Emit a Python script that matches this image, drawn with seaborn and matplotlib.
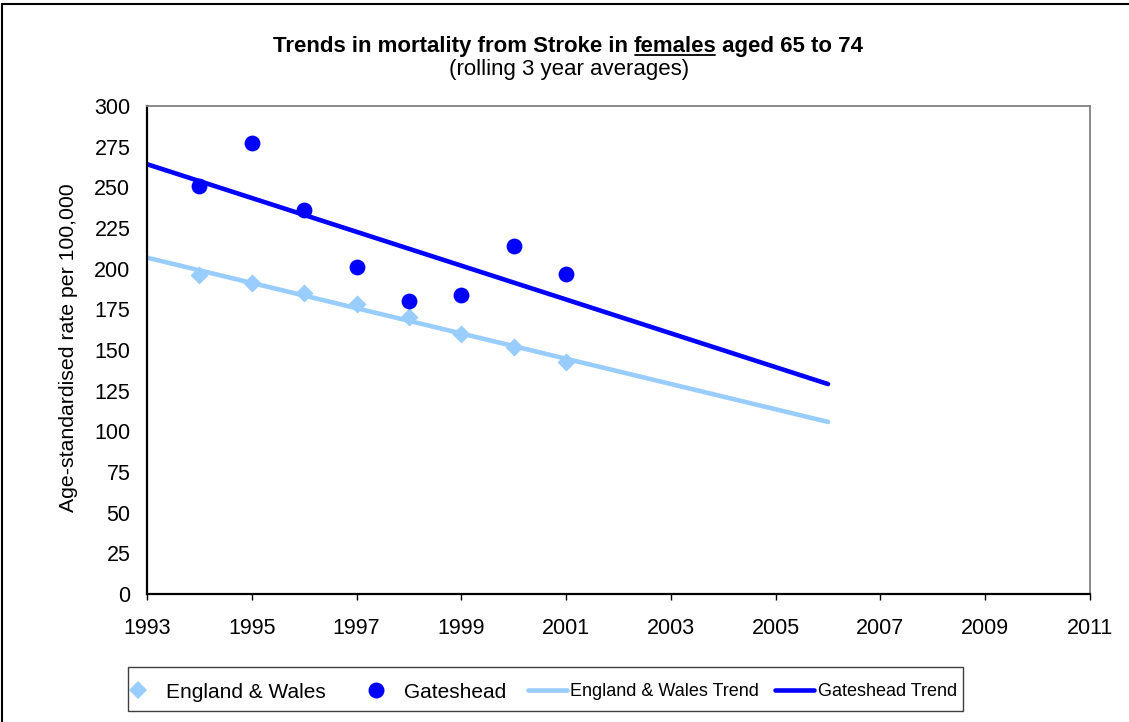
import numpy as np
import pandas as pd
import matplotlib
matplotlib.use("Agg")
import matplotlib.pyplot as plt
from matplotlib.patches import Rectangle
from matplotlib.lines import Line2D
import seaborn as sns

# ---- data ----
years = [1994, 1995, 1996, 1997, 1998, 1999, 2000, 2001]
england_wales = [196, 191, 185, 178, 170, 160, 152, 142.5]
gateshead = [251, 277, 236, 201, 180, 184, 214, 196.5]
trend_years = [1993, 2006]
x_ticks = [1993, 1995, 1997, 1999, 2001, 2003, 2005, 2007, 2009, 2011]
y_ticks = [0, 25, 50, 75, 100, 125, 150, 175, 200, 225, 250, 275, 300]
title_parts = ["Trends in mortality from Stroke in ", "females", " aged 65 to 74"]
subtitle = "(rolling 3 year averages)"
y_label = "Age-standardised rate per 100,000"
legend_labels = ["England & Wales", "Gateshead", "England & Wales Trend", "Gateshead Trend"]

c_ew = "#99CCFF"
c_gh = "#0000FF"

sns.set_theme(style="white")
plt.rcParams['font.family'] = ['Liberation Sans', 'DejaVu Sans']
plt.rcParams['text.color'] = 'black'
plt.rcParams['xtick.color'] = 'black'
plt.rcParams['ytick.color'] = 'black'
plt.rcParams['axes.labelcolor'] = 'black'

W, H = 1129, 722
fig = plt.figure(figsize=(W/100, H/100), dpi=100)
ax = fig.add_axes([147/W, 1 - 594/H, (1090-147)/W, (594-106)/H])

df = pd.DataFrame({"year": years, "ew": england_wales, "gh": gateshead})

# trend lines via least squares fit
p_ew = np.polyfit(years, england_wales, 1)
p_gh = np.polyfit(years, gateshead, 1)
tdf = pd.DataFrame({"year": trend_years,
                    "ew": np.polyval(p_ew, trend_years),
                    "gh": np.polyval(p_gh, trend_years)})

LW = 3.3
sns.lineplot(data=tdf, x="year", y="ew", ax=ax, color=c_ew, linewidth=LW, zorder=2)
sns.lineplot(data=tdf, x="year", y="gh", ax=ax, color=c_gh, linewidth=LW, zorder=2)
sns.scatterplot(data=df, x="year", y="ew", ax=ax, marker="D", s=85, color=c_ew,
                edgecolor=c_ew, linewidth=0, zorder=3)
sns.scatterplot(data=df, x="year", y="gh", ax=ax, marker="o", s=130, color=c_gh,
                edgecolor=c_gh, linewidth=0, zorder=3)

ax.set_xlim(1993, 2011)
ax.set_ylim(0, 300)
ax.set_xticks(x_ticks)
ax.set_yticks(y_ticks)
ax.set_xticklabels([str(t) for t in x_ticks], fontsize=15.5)
ax.set_yticklabels([str(t) for t in y_ticks], fontsize=15.5)
ax.tick_params(axis="x", direction="out", length=4.5, width=1, color="black", pad=13, bottom=True)
ax.tick_params(axis="y", length=0, pad=12)
ax.set_xlabel("")
ax.set_ylabel("")

for s in ["left", "bottom"]:
    ax.spines[s].set_color("black")
    ax.spines[s].set_linewidth(1.6)
for s in ["top", "right"]:
    ax.spines[s].set_color("#808080")
    ax.spines[s].set_linewidth(1.3)
ax.grid(False)

# y label
fig.text(69/W, 1 - 348/H, y_label, rotation=90, ha="center", va="center", fontsize=15.3)

# title with underlined word, placed piecewise
renderer = fig.canvas.get_renderer()
ty = 1 - 52/H
tfs = 16
tmp = [fig.text(0, 0, p, fontsize=tfs, fontweight="bold") for p in title_parts]
widths = [t.get_window_extent(renderer).width for t in tmp]
for t in tmp:
    t.remove()
total = sum(widths)
xs = (568 - total/2)
for p, w in zip(title_parts, widths):
    fig.text(xs/W, ty, p, fontsize=tfs, fontweight="bold", ha="left", va="baseline")
    if p == title_parts[1]:
        uy = 1 - 55/H
        fig.add_artist(Line2D([(xs + 1)/W, (xs + w - 1)/W], [uy, uy], transform=fig.transFigure,
                              color="black", linewidth=1.3))
    xs += w
fig.text(569/W, 1 - 75/H, subtitle, ha="center", va="baseline", fontsize=16)

# legend (manual layout, Excel style)
fig.patches.append(Rectangle((128/W, 1 - 711/H), (963-128)/W, (711-667)/H, transform=fig.transFigure,
                             fill=False, edgecolor="#404040", linewidth=1.0))
ly = 1 - 690/H
fig.add_artist(Line2D([138/W], [ly], marker="D", linestyle="none", color=c_ew,
                      markersize=9, markeredgewidth=0, transform=fig.transFigure))
fig.add_artist(Line2D([376/W], [ly], marker="o", linestyle="none", color=c_gh,
                      markersize=11.5, markeredgewidth=0, transform=fig.transFigure))
fig.add_artist(Line2D([528/W, 567/W], [ly, ly], color=c_ew, linewidth=LW,
                      solid_capstyle="round", transform=fig.transFigure))
fig.add_artist(Line2D([775/W, 814/W], [ly, ly], color=c_gh, linewidth=LW,
                      solid_capstyle="round", transform=fig.transFigure))
for i, (xpix, lab) in enumerate(zip([166, 404, 570, 818], legend_labels)):
    fs = 13 if i >= 2 else 15
    fig.text(xpix/W, ly, lab, ha="left", va="center_baseline", fontsize=fs)

# outer chart border
fig.patches.append(Rectangle((2/W, -0.05), 1.1, 1 - 4/H + 0.05, transform=fig.transFigure,
                             fill=False, edgecolor="black", linewidth=1.5, clip_on=False))

fig.savefig("out.png", dpi=100)
